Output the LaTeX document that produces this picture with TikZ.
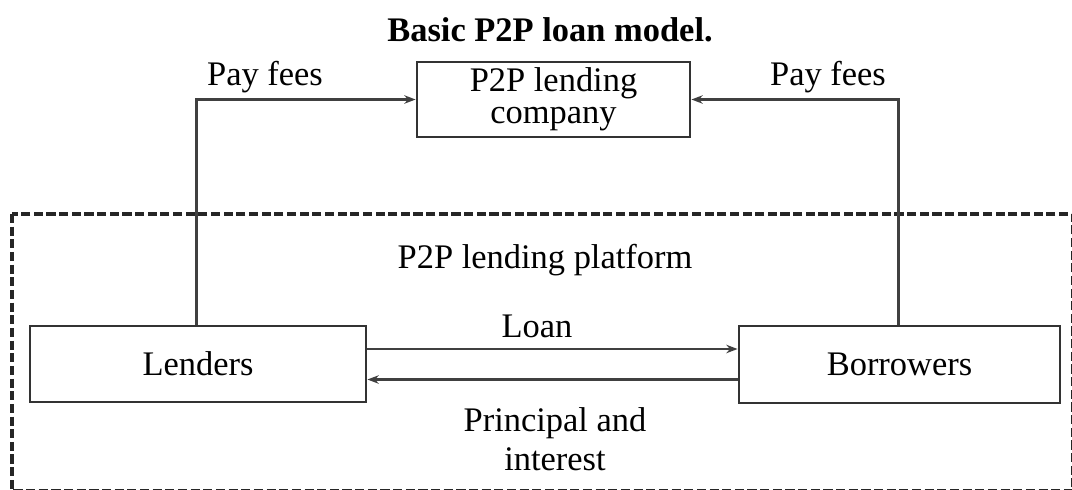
\documentclass[tikz,border=0pt]{standalone}
\usepackage{fontspec}
\setmainfont{Liberation Serif}
\usetikzlibrary{arrows.meta}

\begin{document}
\begin{tikzpicture}[x=0.025cm,y=-0.025cm]
    \tikzstyle{box}=[rectangle,draw=black!80,line width=2pt,inner sep=0pt]
    \tikzstyle{flow}=[draw=black!75,line width=2pt,-{Stealth[length=8pt,width=6pt]}]
    \tikzstyle{lbl}=[font=\fontsize{24.5}{29}\selectfont,inner sep=0pt,anchor=base]

    \useasboundingbox (0,0) rectangle (1072,489);

    % platform frame, cut by the page on the right and bottom
    \draw[draw=black!85,line width=2.4pt,dash pattern=on 6.5pt off 2.5pt] (12,214) rectangle (1073,491);

    \node[lbl,font=\fontsize{24.5}{29}\selectfont\bfseries] (title) at (550,41) {Basic P2P loan model.};

    \node[box,minimum width=6.825cm,minimum height=1.875cm,align=center,
          font=\fontsize{24.5}{22.5}\selectfont] (company) at (553.5,99.5) {P2P lending\\company};
    \node[box,minimum width=8.4cm,minimum height=1.9cm,font=\fontsize{24.5}{29}\selectfont] (lenders) at (198,364) {Lenders};
    \node[box,minimum width=8.025cm,minimum height=1.925cm,font=\fontsize{24.5}{29}\selectfont] (borrowers) at (899.5,364.5) {Borrowers};

    \node[lbl] (platform) at (545,268) {P2P lending platform};

    % fees paid to the company
    \draw[flow] (lenders.north west) ++(168,0) |- (company.west);
    \draw[flow] (borrowers.north west) ++(161,0) |- (company.east);
    \node[lbl] (feesL) at (265,85) {Pay fees};
    \node[lbl] (feesR) at (828,85) {Pay fees};

    % money between lenders and borrowers
    \draw[flow] ([yshift=0.375cm]lenders.east) -- ([yshift=0.375cm]lenders.east -| borrowers.west);
    \draw[flow] ([yshift=-0.375cm]borrowers.west) -- ([yshift=-0.375cm]borrowers.west -| lenders.east);
    \node[lbl] (loan) at (537,337) {Loan};
    \node[lbl,align=center,font=\fontsize{24.5}{28}\selectfont,anchor=north] (repay) at (555,407) {Principal and\\interest};

\end{tikzpicture}
\end{document}
